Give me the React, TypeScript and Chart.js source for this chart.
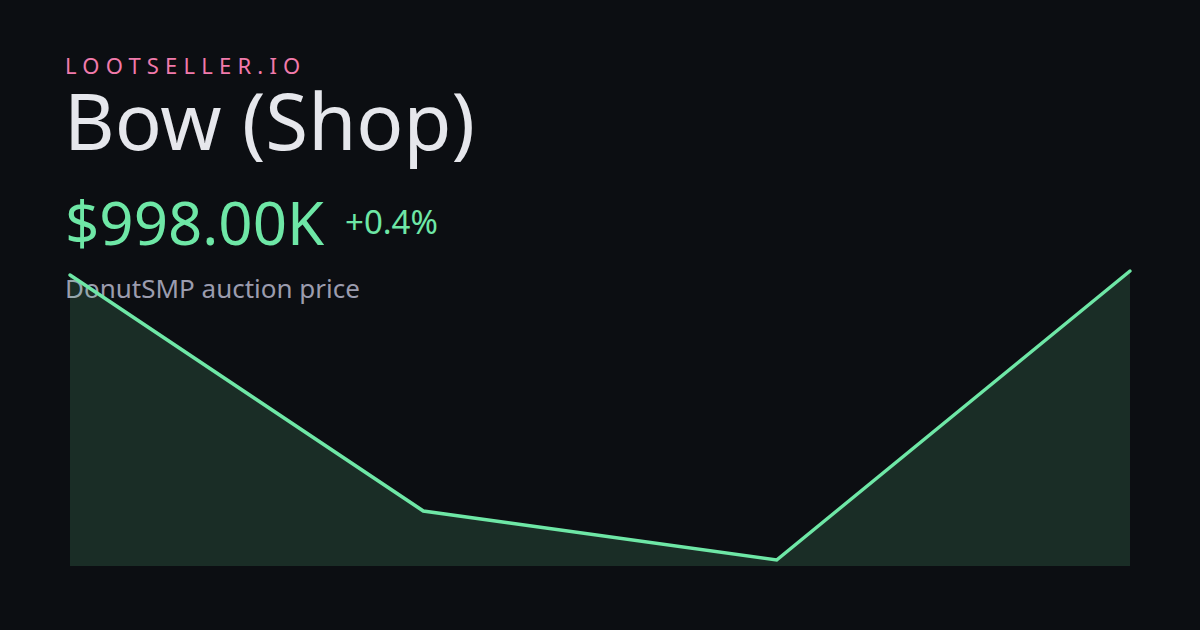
import React, { useEffect, useRef } from "react";
import { Chart, registerables } from "chart.js";

Chart.register(...registerables);

const labels = ["1", "2", "3", "4"];
const prices = [994, 758, 709, 998];
const yMin = 703;
const yMax = 998;

const BG = "#0c0e12";
const GREEN = "#6ee7a6";
const FONT = "'Noto Sans', 'Open Sans', sans-serif";

export default function App() {
  const ref = useRef<HTMLCanvasElement | null>(null);

  useEffect(() => {
    document.body.style.margin = "0";
    const ctx = ref.current!.getContext("2d")!;
    const chart = new Chart(ctx, {
      type: "line",
      data: {
        labels,
        datasets: [
          {
            data: prices,
            borderColor: GREEN,
            borderWidth: 3.5,
            backgroundColor: "rgba(110,231,166,0.14)",
            fill: "start",
            tension: 0,
            pointRadius: 0,
            clip: false as any,
            borderCapStyle: "round",
            borderJoinStyle: "miter",
          },
        ],
      },
      options: {
        animation: false,
        responsive: false,
        maintainAspectRatio: false,
        devicePixelRatio: 1,
        layout: { padding: { left: 70, right: 70, top: 271, bottom: 64 } },
        plugins: { legend: { display: false }, tooltip: { enabled: false } },
        scales: {
          x: { display: false, offset: false },
          y: { display: false, min: yMin, max: yMax },
        },
      },
    });
    return () => chart.destroy();
  }, []);

  const base: React.CSSProperties = {
    position: "absolute",
    left: 65,
    fontFamily: FONT,
    whiteSpace: "nowrap",
    margin: 0,
  };

  return (
    <div
      style={{
        position: "relative",
        width: 1200,
        height: 630,
        background: BG,
        overflow: "hidden",
      }}
    >
      <div style={{ ...base, top: 53.5, fontSize: 22, lineHeight: "22px", letterSpacing: "6.2px", color: "#f17aab" }}>
        LOOTSELLER.IO
      </div>
      <div style={{ ...base, top: 80.5, left: 64, fontSize: 78, lineHeight: "78px", color: "#e6e7ec" }}>Bow (Shop)</div>
      <div style={{ ...base, top: 192, fontSize: 60, lineHeight: "60px", color: GREEN }}>$998.00K</div>
      <div style={{ ...base, left: 345, top: 205, fontSize: 33, lineHeight: "33px", color: GREEN }}>+0.4%</div>
      <div style={{ ...base, top: 275, fontSize: 26, lineHeight: "26px", color: "#9b9cae" }}>DonutSMP auction price</div>
      <canvas
        ref={ref}
        width={1200}
        height={630}
        style={{ position: "absolute", left: 0, top: 0, width: 1200, height: 630 }}
      />
    </div>
  );
}
